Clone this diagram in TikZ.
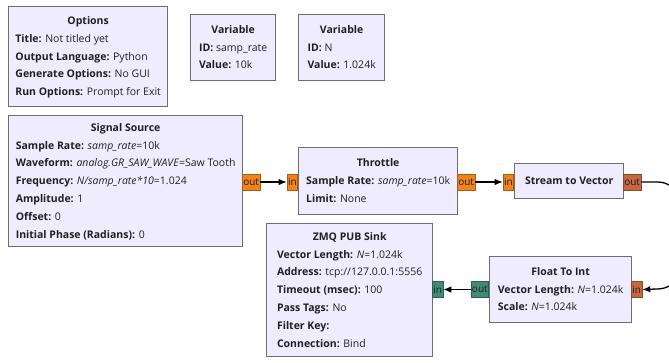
\documentclass[tikz,border=0pt]{standalone}
\usepackage{fontspec}
\setmainfont{Open Sans}
\usetikzlibrary{arrows.meta, positioning}
\definecolor{blockfill}{HTML}{EFECFF}
\definecolor{blockline}{HTML}{6E6E6E}
\definecolor{portfloat}{HTML}{F2831C}
\definecolor{portvec}{HTML}{C4693F}
\definecolor{portint}{HTML}{3F8B75}
\definecolor{txt}{HTML}{202020}
\newcommand{\blocktitle}[1]{\multicolumn{1}{@{}c@{}}{\textbf{#1}}}

\begin{document}
\begin{tikzpicture}[x=1pt, y=-1pt, >={Latex[length=8pt, width=6.5pt]},
  block/.style={draw=blockline, fill=blockfill, line width=1.3pt, anchor=north west, inner sep=0pt, text=txt,
    font={\fontsize{10.5}{12.7}\selectfont\renewcommand{\arraystretch}{1.40}}},
  port/.style={draw=#1!70!black, fill=#1, line width=0.6pt, inner sep=1pt, minimum height=16pt, text=txt,
    font=\fontsize{10}{12}\selectfont},
  wire/.style={->, line width=1.3pt}]
\useasboundingbox (0,0) rectangle (669,362);
\clip (0,0) rectangle (669,362);
% Variables and options
\node[block, minimum width=159pt, minimum height=100pt] (opts) at (8,6) {\begin{tabular}{@{}l@{}}
  \blocktitle{Options}\\ \textbf{Title:} Not titled yet\\ \textbf{Output Language:} Python\\
  \textbf{Generate Options:} No GUI\\ \textbf{Run Options:} Prompt for Exit\end{tabular}};
\node[block, minimum width=85pt, minimum height=66pt] (varrate) at (190,14) {\begin{tabular}{@{}l@{}}
  \blocktitle{Variable}\\ \textbf{ID:} samp\_rate\\ \textbf{Value:} 10k\end{tabular}};
\node[block, minimum width=86pt, minimum height=66pt] (varn) at (298,14) {\begin{tabular}{@{}l@{}}
  \blocktitle{Variable}\\ \textbf{ID:} N\\ \textbf{Value:} 1.024k\end{tabular}};
% Flow graph blocks
\node[block, minimum width=234pt, minimum height=131pt] (src) at (8,115) {\begin{tabular}{@{}l@{}}
  \blocktitle{Signal Source}\\ \textbf{Sample Rate:} \textit{samp\_rate}=10k\\
  \textbf{Waveform:} \textit{analog.GR\_SAW\_WAVE}=Saw Tooth\\ \textbf{Frequency:} \textit{N/samp\_rate*10}=1.024\\
  \textbf{Amplitude:} 1\\ \textbf{Offset:} 0\\ \textbf{Initial Phase (Radians):} 0\end{tabular}};
\node[block, minimum width=159pt, minimum height=67pt] (thr) at (298,147) {\begin{tabular}{@{}l@{}}
  \blocktitle{Throttle}\\ \textbf{Sample Rate:} \textit{samp\_rate}=10k\\ \textbf{Limit:} None\end{tabular}};
\node[block, minimum width=109pt, minimum height=35pt] (s2v) at (514,163) {\textbf{Stream to Vector}};
\node[block, minimum width=166pt, minimum height=133pt] (zmq) at (266,223) {\begin{tabular}{@{}l@{}}
  \blocktitle{ZMQ PUB Sink}\\ \textbf{Vector Length:} \textit{N}=1.024k\\ \textbf{Address:} tcp://127.0.0.1:5556\\
  \textbf{Timeout (msec):} 100\\ \textbf{Pass Tags:} No\\ \textbf{Filter Key:}\\ \textbf{Connection:} Bind\end{tabular}};
\node[block, minimum width=142pt, minimum height=66pt] (f2i) at (489,256) {\begin{tabular}{@{}l@{}}
  \blocktitle{Float To Int}\\ \textbf{Vector Length:} \textit{N}=1.024k\\ \textbf{Scale:} \textit{N}=1.024k\end{tabular}};
% Ports
\node[port=portfloat, anchor=west] (srcout) at (242,182) {out};
\node[port=portfloat, anchor=east] (thrin) at (298,182) {in};
\node[port=portfloat, anchor=west] (throut) at (457,182) {out};
\node[port=portfloat, anchor=east] (s2vin) at (514,182) {in};
\node[port=portvec, anchor=west] (s2vout) at (623,182) {out};
\node[port=portvec, anchor=west] (f2iin) at (631,289.5) {in};
\node[port=portint, anchor=east] (f2iout) at (489,289.5) {out};
\node[port=portint, anchor=west] (zmqin) at (432,289.5) {in};
% Connections
\draw[wire] (srcout) -- (thrin);
\draw[wire] (throut) -- (s2vin);
\draw[wire] (f2iout) -- (zmqin);
\draw[wire] (s2vout.east) -- ++(16,0) to[out=0, in=90] ++(20,16) -- ++(0,75) to[out=-90, in=0] ++(-20,16) -- (f2iin.east);
\end{tikzpicture}
\end{document}
